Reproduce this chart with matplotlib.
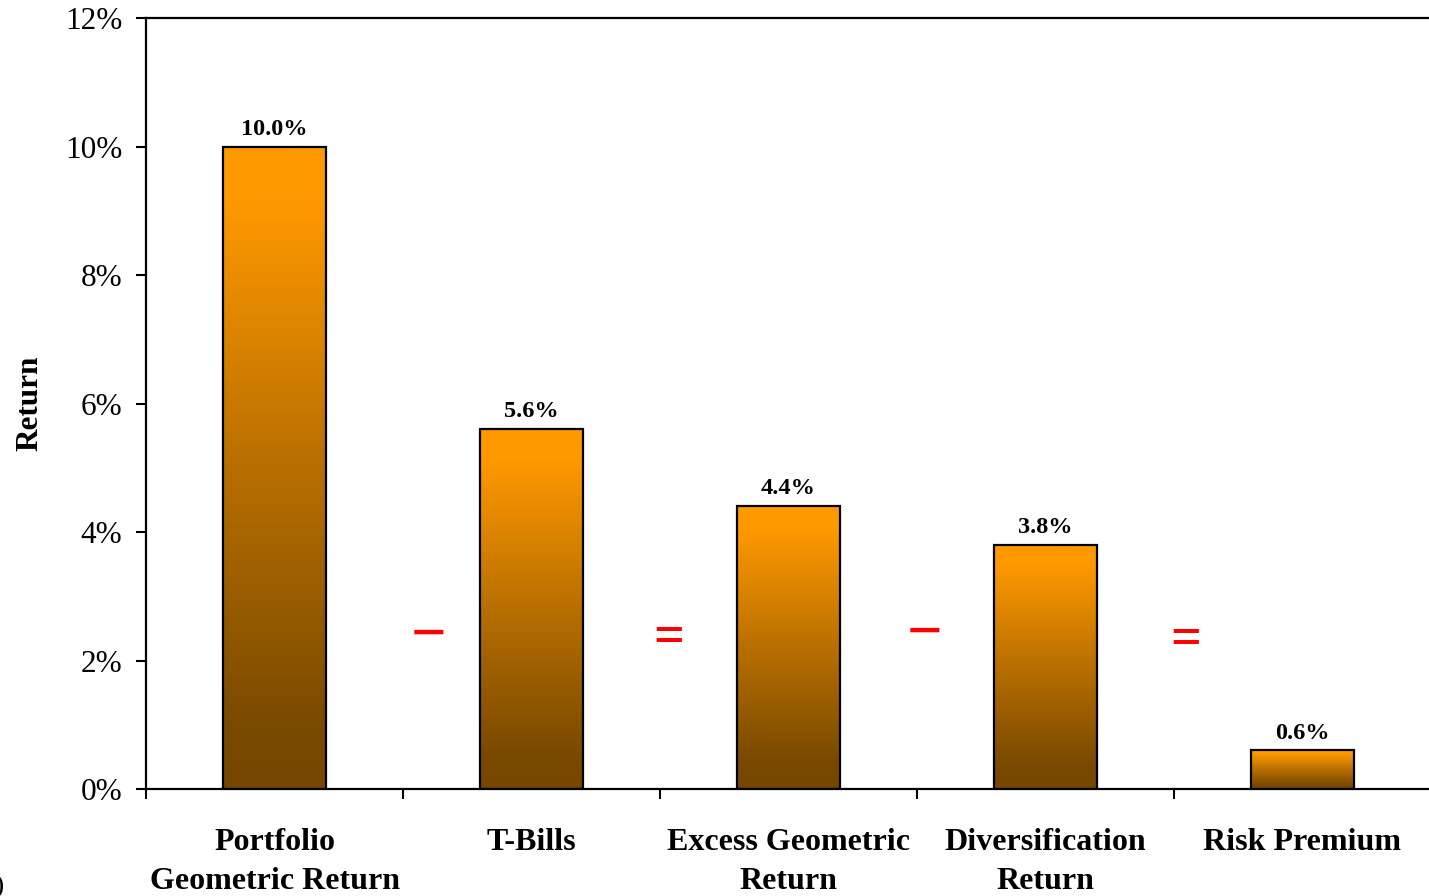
import numpy as np
import matplotlib
matplotlib.use('Agg')
import matplotlib.pyplot as plt
from matplotlib.colors import LinearSegmentedColormap

categories = ['Portfolio\nGeometric Return', 'T-Bills', 'Excess Geometric\nReturn',
              'Diversification\nReturn', 'Risk Premium']
values = [10.0, 5.6, 4.4, 3.8, 0.6]
operators = ['\u2212', '=', '\u2212', '=']
y_ticks = [0, 2, 4, 6, 8, 10, 12]

plt.rcParams['font.family'] = ['Liberation Serif', 'DejaVu Serif']

fig = plt.figure(figsize=(14.29, 8.96), dpi=100)
ax = fig.add_axes([146/1429, 1-789/896, 1285/1429, 771/896])

# gradient: orange at top, brown at bottom
cmap = LinearSegmentedColormap.from_list('bar', [(0.0, '#774700'), (0.1, '#7a4a00'),
                                                 (0.5, '#b86f00'), (0.92, '#ff9900'),
                                                 (1.0, '#ff9900')])
grad = np.linspace(0, 1, 256).reshape(-1, 1)
bar_w = 0.4
x = np.arange(len(categories))
for xi, v in zip(x, values):
    ax.imshow(grad, cmap=cmap, origin='lower', aspect='auto',
              extent=(xi - bar_w/2, xi + bar_w/2, 0, v), zorder=2)
bars = ax.bar(x, values, width=bar_w, facecolor='none', edgecolor='black',
              linewidth=1.6, zorder=3)
for xi, v in zip(x, values):
    ax.annotate('%.1f%%' % v, (xi, v), xytext=(0, 5), textcoords='offset points',
                ha='center', va='bottom', fontsize=17.5, fontweight='bold')

# operators between bars
op_x = [0.60, 1.535, 2.53, 3.545]
op_y = [2.36, 2.34, 2.38, 2.31]
op_size = [45, 39, 45, 39]
for s, ox, oy, fs in zip(operators, op_x, op_y, op_size):
    ax.text(ox, oy, s, color='red', fontsize=fs, fontweight='bold',
            ha='center', va='center', zorder=4)

ax.set_xlim(-0.5, len(categories) - 0.5)
ax.set_ylim(0, 12)
ax.set_yticks(y_ticks)
ax.set_yticklabels(['%d%%' % t for t in y_ticks], fontsize=22.5)
ax.set_xticks(np.arange(-0.5, len(categories), 1.0))
ax.set_xticklabels([])
ax.set_xticks(x, minor=True)
ax.set_xticklabels(categories, minor=True, fontsize=23, fontweight='bold',
                   linespacing=1.45, va='top')
ax.tick_params(axis='x', which='minor', length=0, pad=28)
ax.tick_params(axis='x', which='major', length=7, width=1.5, direction='out')
ax.tick_params(axis='y', length=7, width=1.5, pad=10)

ax.set_ylabel('Return', fontsize=22.5, fontweight='bold')
ax.yaxis.set_label_coords(-0.079, 0.5)

for sp in ['left', 'bottom', 'top']:
    ax.spines[sp].set_linewidth(1.6)
ax.spines['right'].set_visible(False)

fig.text(-0.004, -0.004, ')', fontsize=20, ha='left', va='bottom')

fig.savefig('out.png', dpi=100)
